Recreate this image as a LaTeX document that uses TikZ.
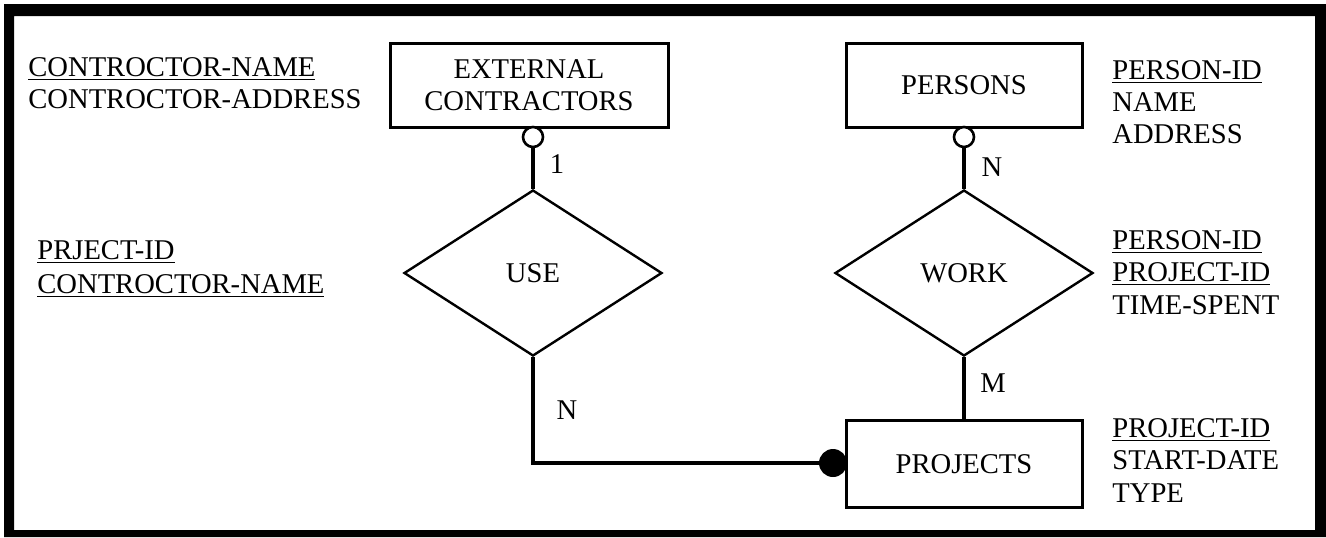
\documentclass[tikz,border=0pt]{standalone}
\usepackage{fontspec}
\setmainfont{Liberation Serif}
\usetikzlibrary{shapes.geometric}
\begin{document}
\begin{tikzpicture}[x=0.5pt,y=-0.5pt,
  every node/.style={font=\fontsize{14.3}{16}\selectfont},
  entity/.style={draw,line width=1.5pt,rectangle,inner sep=0pt,align=center},
  relation/.style={draw,line width=1.2pt,diamond,inner sep=0pt,minimum width=129pt,minimum height=83pt},
  opt/.style={draw,line width=1.3pt,circle,fill=white,inner sep=0pt,minimum size=10pt},
  must/.style={fill=black,circle,inner sep=0pt,minimum size=14pt},
  link/.style={line width=1.6pt},
  attr/.style={anchor=base west,inner sep=0pt},
  card/.style={inner sep=0pt}]
  % canvas and frame
  \useasboundingbox (0,0) rectangle (1326,537);
  \fill[white] (0,0) rectangle (1326,537);
  \fill[black,even odd rule] (4,4) rectangle (1326,537) (14,16) rectangle (1315,530);

  % entities
  \node[entity,minimum width=139pt,minimum height=42pt] (ec) at (529,85) {EXTERNAL\\CONTRACTORS};
  \node[entity,minimum width=118pt,minimum height=42pt] (pers) at (964,85) {PERSONS};
  \node[entity,minimum width=118pt,minimum height=43.5pt] (proj) at (964,464) {PROJECTS};

  % relationships
  \node[relation] (use) at (533,273) {USE};
  \node[relation] (work) at (964,273) {WORK};

  % participation markers
  \node[opt] (oec) at (533,137) {};
  \node[opt] (opers) at (964,137) {};
  \node[must] (dot) at (833,463) {};

  % connectors
  \draw[link] (oec.south) -- (use.north);
  \draw[link] (opers.south) -- (work.north);
  \draw[link] (use.south) |- (dot);
  \draw[link] (proj.north) -- (work.south);

  % cardinalities
  \node[card] (c1) at (557,164) {1};
  \node[card] (c2) at (992,167) {N};
  \node[card] (c3) at (567,410) {N};
  \node[card] (c4) at (993,383) {M};

  % attributes of EXTERNAL CONTRACTORS
  \node[attr] (a1) at (28,76) {\underline{CONTROCTOR-NAME}};
  \node[attr] (a2) at (28,108) {CONTROCTOR-ADDRESS};

  % attributes of USE
  \node[attr] (a3) at (37,259) {\underline{PRJECT-ID}};
  \node[attr] (a4) at (37,293) {\underline{CONTROCTOR-NAME}};

  % attributes of PERSONS
  \node[attr] (a5) at (1112,79) {\underline{PERSON-ID}};
  \node[attr] (a6) at (1112,111) {NAME};
  \node[attr] (a7) at (1112,143) {ADDRESS};

  % attributes of WORK
  \node[attr] (a8) at (1112,249) {\underline{PERSON-ID}};
  \node[attr] (a9) at (1112,281) {\underline{PROJECT-ID}};
  \node[attr] (a10) at (1112,314) {TIME-SPENT};

  % attributes of PROJECTS
  \node[attr] (a11) at (1112,437) {\underline{PROJECT-ID}};
  \node[attr] (a12) at (1112,469) {START-DATE};
  \node[attr] (a13) at (1112,502) {TYPE};
\end{tikzpicture}
\end{document}
